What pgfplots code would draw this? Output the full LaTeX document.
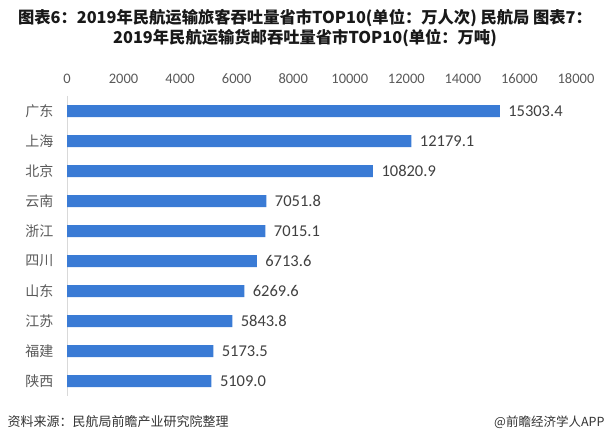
\documentclass[border=0pt]{standalone}
\usepackage{fontspec}
\usepackage{pgfplots}
\pgfplotsset{compat=1.18}
\setmainfont{Carlito}
\newfontfamily\cjk{Noto Sans CJK SC}
\definecolor{barblue}{HTML}{3A7BD5}
\definecolor{txtgray}{HTML}{595959}
\definecolor{valgray}{HTML}{404040}

\begin{document}
\begin{tikzpicture}
\path[use as bounding box] (0pt,0pt) rectangle (610pt,445pt);
% title
\node[font=\cjk\bfseries\fontsize{16.3}{19.5}\selectfont, color=black!90, align=center] at (305pt,417pt)
  {图表6：2019年民航运输旅客吞吐量省市TOP10(单位：万人次) 民航局 图表7：\\2019年民航运输货邮吞吐量省市TOP10(单位：万吨)};
\begin{axis}[
    at={(67pt,49pt)}, anchor=south west,
    scale only axis, width=509pt, height=300pt,
    xbar, bar width=12pt,
    xmin=0, xmax=18000,
    ymin=-0.5, ymax=9.5, y dir=reverse,
    xtick={0,2000,...,18000},
    xticklabel pos=upper,
    ytick={0,...,9},
    yticklabels={广东,上海,北京,云南,浙江,四川,山东,江苏,福建,陕西},
    major tick length=0pt,
    axis x line*=top,
    axis y line*=left,
    x axis line style={draw=none},
    y axis line style={draw=black!15, line width=0.8pt},
    /pgf/number format/assume math mode=true,
    xticklabel style={font=\fontsize{14.5}{15}\selectfont, color=txtgray, yshift=9pt},
    yticklabel style={font=\cjk\fontsize{14}{15}\selectfont, color=txtgray, xshift=-10pt},
    scaled x ticks=false,
    x tick label style={/pgf/number format/1000 sep={}},
    nodes near coords,
    point meta=x,
    nodes near coords style={font=\fontsize{16.5}{17}\selectfont, color=valgray, anchor=west, xshift=5pt,
        /pgf/number format/.cd, fixed, fixed zerofill, precision=1, 1000 sep={}, assume math mode=true},
  ]
\addplot[fill=barblue, draw=none] coordinates {
  (15303.4,0) (12179.1,1) (10820.9,2) (7051.8,3) (7015.1,4)
  (6713.6,5) (6269.6,6) (5843.8,7) (5173.5,8) (5109.0,9)};
\end{axis}
% footer
\node[anchor=west, font=\cjk\fontsize{13}{14}\selectfont, color=black!80] at (4pt,23pt) {资料来源：民航局前瞻产业研究院整理};
\node[anchor=east, font=\cjk\fontsize{12.5}{14}\selectfont, color=black!80] at (608pt,23pt) {@前瞻经济学人APP};
\end{tikzpicture}
\end{document}
